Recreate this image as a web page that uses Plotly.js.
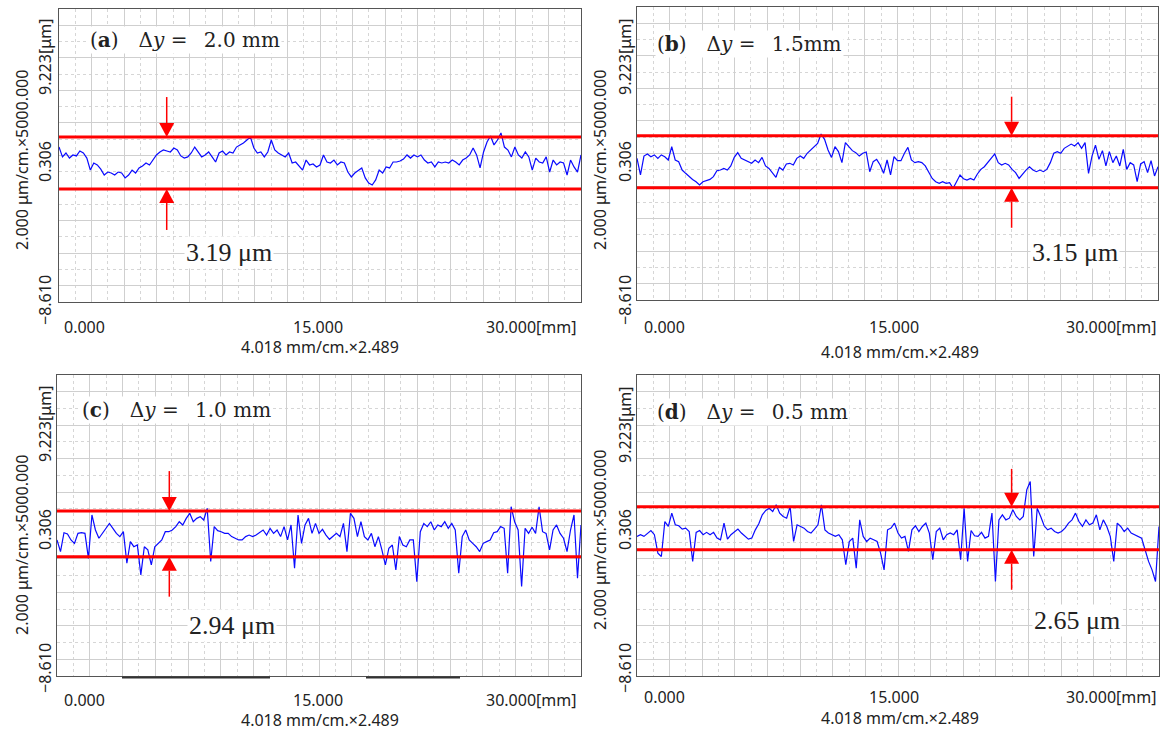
<!DOCTYPE html>
<html><head><meta charset="utf-8">
<script src="https://cdn.plot.ly/plotly-3.0.1.min.js"></script>
<style>html,body{margin:0;padding:0;background:#fff}#chart{width:1169px;height:731px}</style>
</head><body><div id="chart"></div>
<script>
// ---------------- data ----------------
const positionsMm = [0,0.2,0.4,0.6,0.8,1,1.2,1.4,1.6,1.8,2,2.2,2.4,2.6,2.8,3,3.2,3.4,3.6,3.8,4,4.2,4.4,4.6,4.8,5,5.2,5.4,5.6,5.8,6,6.2,6.4,6.6,6.8,7,7.2,7.4,7.6,7.8,8,8.2,8.4,8.6,8.8,9,9.2,9.4,9.6,9.8,10,10.2,10.4,10.6,10.8,11,11.2,11.4,11.6,11.8,12,12.2,12.4,12.6,12.8,13,13.2,13.4,13.6,13.8,14,14.2,14.4,14.6,14.8,15,15.2,15.4,15.6,15.8,16,16.2,16.4,16.6,16.8,17,17.2,17.4,17.6,17.8,18,18.2,18.4,18.6,18.8,19,19.2,19.4,19.6,19.8,20,20.2,20.4,20.6,20.8,21,21.2,21.4,21.6,21.8,22,22.2,22.4,22.6,22.8,23,23.2,23.4,23.6,23.8,24,24.2,24.4,24.6,24.8,25,25.2,25.4,25.6,25.8,26,26.2,26.4,26.6,26.8,27,27.2,27.4,27.6,27.8,28,28.2,28.4,28.6,28.8,29,29.2,29.4,29.6,29.8,30];
const profileA = [0.82,0.22,0.46,0.15,0.34,0.28,
 0.58,0.46,0.15,-0.58,-0.15, -0.27,-0.52,-0.88,-0.70,-0.76, -0.88,-0.70,-0.76,-1.06,-0.88,
 -0.58,-0.76,-0.45,-0.33,-0.15, -0.27,0.03,0.34,0.52,0.64, 0.58,0.52,0.76,0.64,0.28,
 0.15,0.22,0.46,0.82,0.52, 0.22,0.34,0.52,0.22,-0.09, 0.46,0.58,0.34,0.52,0.46,
 0.82,0.95,1.07,1.25,1.43, 0.76,0.46,0.52,0.22,0.52, 1.25,0.64,0.46,0.34,0.22,
 0.46,-0.15,-0.09,-0.33,-0.58, 0.03,-0.27,-0.21,-0.39,-0.27, 0.34,-0.09,-0.15,0.03,-0.27,
 -0.09,-0.15,-0.70,-1.00,-0.76, -0.58,-0.45,-1.06,-1.37,-1.49, -1.18,-0.58,-0.76,-0.39,-0.45,
 -0.09,-0.09,-0.03,0.09,0.34, 0.15,0.34,0.22,0.34,0.03, -0.15,-0.09,-0.39,-0.09,-0.15,
 -0.09,-0.15,0.03,-0.09,-0.27, 0.03,0.15,0.34,0.76,0.34, -0.45,0.52,1.13,1.49,0.95,
 1.25,1.68,0.82,0.64,0.22, 0.82,0.34,0.15,0.52,0.22, -0.58,0.15,-0.09,-0.15,0.22,
 -0.70,0.03,-0.27,-0.09,-0.15, -0.88,0.03,-0.39,-0.70,0.34];
const profileB = [0.01,-1.00,0.15,0.28,0.11,0.22,
 0.01,0.22,0.11,-0.09,0.72, -0.09,-0.19,-0.70,-0.90,-1.10, -1.27,-1.41,-1.61,-1.41,-1.35,
 -1.27,-1.10,-0.74,-0.70,-0.60, -0.70,-0.45,0.07,0.36,0.01, -0.09,-0.19,-0.29,-0.09,-0.25,
 0.07,-0.45,-0.60,-0.86,-1.14, -0.54,-0.70,-0.33,-0.29,-0.39, 0.01,0.15,0.01,0.32,0.52,
 0.72,0.92,1.49,1.17,0.52, 0.07,0.72,0.42,-0.25,0.97, 0.72,0.48,0.36,0.15,0.32,
 0.40,-0.80,-0.19,-0.05,-0.39, -0.90,-0.09,-1.00,0.11,-0.13, -0.13,0.32,0.68,-0.09,-0.25,
 -0.19,-0.25,-0.45,-0.80,-1.21, -1.41,-1.51,-1.41,-1.51,-1.47, -1.81,-1.41,-1.00,-1.23,-1.31,
 -1.21,-1.31,-0.94,-0.66,-0.50, -0.25,0.07,0.28,-0.25,-0.39, -0.29,-0.39,-0.66,-0.86,-1.21,
 -0.94,-0.70,-0.50,-0.70,-0.80, -0.70,-0.80,-0.66,-0.25,0.32, 0.42,0.32,0.62,0.76,0.88,
 0.76,0.97,0.62,0.97,-0.90, 0.15,0.82,-0.05,0.48,-0.45, 0.42,-0.25,0.15,-0.45,0.56,
 -0.66,-0.25,-0.39,-1.41,-0.33, -0.19,-0.86,-0.13,-1.06,-0.50];
const profileC = [-0.55,-1.24,-0.12,-0.20,-0.55,-0.75,
 -0.16,-0.12,-0.16,-1.64,0.93, 0.04,-0.45,-0.16,0.14,0.43, 0.14,-0.16,-0.35,-0.06,-1.93,
 -0.65,-0.95,-0.85,-2.62,-0.95, -1.14,-2.03,-0.95,-0.75,-0.55, -0.06,-0.06,0.04,0.24,0.53,
 0.34,0.73,1.03,0.53,0.73, 0.83,0.63,1.32,-1.83,0.24, 0.00,-0.06,-0.16,-0.16,-0.35,
 -0.45,-0.55,-0.55,-0.35,-0.26, -0.35,-0.26,-0.12,0.04,-0.26, 0.14,-0.16,0.04,-0.35,0.24,
 -0.55,0.34,-2.23,0.93,-0.75, 0.34,0.73,-0.16,0.43,-0.16, 0.08,-0.26,-0.51,-0.35,-0.16,
 -0.35,0.43,-1.24,1.03,0.73, -0.35,0.53,-0.35,-0.55,-0.16, -0.95,-0.35,-1.14,-2.03,-1.04,
 -0.85,-2.33,-0.35,-0.85,-0.95, -0.55,-0.55,-3.02,-0.06,0.43, 0.24,0.53,0.04,0.34,0.24,
 0.53,0.14,0.43,0.04,-2.52, -0.35,0.04,-0.55,-0.75,-0.95, -1.24,-0.75,-0.65,-0.55,-0.12,
 -0.06,0.24,0.14,-2.52,1.42, 0.53,0.04,-3.31,0.14,-0.16, 0.20,-0.16,1.42,-0.06,-0.16,
 -1.14,0.04,0.34,-0.16,-0.45, -1.24,0.04,0.93,-2.82,0.34];
const profileD = [-0.34,-0.24,-0.34,-0.14,0.01,-0.24,
 -1.33,-1.53,0.54,0.25,1.04, 0.35,0.29,0.09,0.15,-0.05, -1.82,-0.10,0.01,-0.24,-0.10,
 -0.24,-0.10,-0.44,-0.54,0.45, -0.50,-0.24,-0.05,0.09,-0.14, -0.30,-0.50,-0.44,0.05,0.41,
 0.94,1.20,1.33,1.14,1.53, 1.04,0.84,0.74,1.43,-0.64, 0.35,0.25,0.15,-0.05,-0.14,
 0.09,0.35,1.53,0.05,-0.14, -0.24,-0.34,-0.24,-0.54,-2.02, -0.64,-0.44,-2.22,0.64,-0.34,
 -0.64,-0.44,-0.54,-0.64,-1.33, -2.32,0.05,0.15,0.45,-0.14, -0.44,-0.34,-1.23,0.05,0.29,
 -0.05,0.25,0.45,-0.14,-1.72, -0.05,0.15,-0.54,-0.24,-0.14, -0.24,0.05,-1.72,1.33,-1.82,
 0.01,-0.30,-0.34,-0.10,-0.44, -0.34,1.04,-3.01,0.64,0.94, 0.64,0.74,1.24,0.84,0.64,
 0.84,2.42,2.91,-1.53,1.33, 0.84,0.29,0.05,0.15,-0.05, -0.14,-0.05,0.15,0.45,0.64,
 1.04,0.54,0.25,0.64,0.35, 0.45,0.94,0.05,0.64,0.25, -0.34,-1.82,0.45,0.25,-0.05,
 0.15,-0.14,-0.24,-0.34,-0.44, -1.13,-1.82,-2.32,-3.01,0.25];
const profiles = [profileA, profileB, profileC, profileD];
const upperLimit = [1.43, 1.39, 1.16, 1.41];
const lowerLimit = [-1.73, -1.78, -1.54, -1.13];
const arrowPosMm = [6.19, 21.57, 6.43, 21.53];
const panelLetters = ['a','b','c','d'];
const deltaY = ['2.0 mm','1.5mm','1.0 mm','0.5 mm'];
const spanLabels = ['3.19 μm','3.15 μm','2.94 μm','2.65 μm'];
const yTickLabels = ['9.223[μm]','0.306','−8.610'];
const xTickLabels = ['0.000','15.000','30.000[mm]'];
const yAxisTitle = '2.000 μm/cm.×5000.000';
const xAxisTitle = '4.018 mm/cm.×2.489';
const xRange = [0, 30];
const yRange = [-8.610, 9.223];

// ---------------- layout geometry (pixels) ----------------
const W = 1169, H = 731;
const P = (x) => x / W, Q = (y) => 1 - y / H;
const panels = [
  {L:59, R:581, T:9, B:302, lab:[88,40], span:[184,252], ytx:45, ytl:[57,162,300], ytitle:[22,160], xtl:[[84,327],[318,327],[531,327]], xtitle:[320,347], arrowTop:40, arrowBot:41},
  {L:637, R:1158, T:7, B:300, lab:[655,44], span:[1030,252], ytx:625, ytl:[57,162,300], ytitle:[600,160], xtl:[[664,327],[894,327],[1111,327]], xtitle:[900,352], arrowTop:39, arrowBot:40},
  {L:57, R:581, T:375, B:676, lab:[80,410], span:[187,625], ytx:45, ytl:[424,530,668], ytitle:[22,545], xtl:[[84,700],[318,700],[531,700]], xtitle:[320,720], arrowTop:40, arrowBot:40},
  {L:637, R:1159, T:375, B:676, lab:[655,412], span:[1032,620], ytx:625, ytl:[425,530,668], ytitle:[600,540], xtl:[[664,697],[894,697],[1111,697]], xtitle:[900,718], arrowTop:38, arrowBot:40}
];

const traces = [], shapes = [], annotations = [];
const layout = {
  width: W, height: H, margin: {l:0, r:0, t:0, b:0},
  paper_bgcolor: '#fff', plot_bgcolor: '#fff', showlegend: false,
  font: {family: 'Noto Sans, sans-serif', size: 16, color: '#222'}
};
const serif = 'Liberation Serif, DejaVu Serif, serif';
const labelSerif = 'DejaVu Serif, Liberation Serif, serif';

panels.forEach((p, i) => {
  const n = i === 0 ? '' : String(i + 1);
  const xa = 'x' + n, ya = 'y' + n;
  layout['xaxis' + n] = {
    domain: [P(p.L), P(p.R)], range: xRange, anchor: ya,
    showticklabels: false, ticks: '', zeroline: false,
    tick0: 0, dtick: 1.875, showgrid: true, gridcolor: '#cfcfcf', gridwidth: 1,
    minor: {tick0: 0, dtick: 0.9375, showgrid: true, gridcolor: '#d6d6d6', griddash: '3px,3px', gridwidth: 1, ticks: ''},
    showline: true, linecolor: '#555', linewidth: 1.3, mirror: true
  };
  layout['yaxis' + n] = {
    domain: [Q(p.B), Q(p.T)], range: yRange, anchor: xa,
    showticklabels: false, ticks: '', zeroline: false,
    tick0: 0.306, dtick: 1.98144, showgrid: true, gridcolor: '#cfcfcf', gridwidth: 1,
    minor: {tick0: 0.306, dtick: 0.99072, showgrid: true, gridcolor: '#d6d6d6', griddash: '3px,3px', gridwidth: 1, ticks: ''},
    showline: true, linecolor: '#555', linewidth: 1.3, mirror: true
  };
  traces.push({type: 'scatter', mode: 'lines', x: positionsMm, y: profiles[i], xaxis: xa, yaxis: ya,
    line: {color: '#0a0aff', width: 1.2}, hoverinfo: 'skip'});
  traces.push({type: 'scatter', mode: 'lines', x: xRange, y: [upperLimit[i], upperLimit[i]], xaxis: xa, yaxis: ya,
    line: {color: '#ff0000', width: 3}, hoverinfo: 'skip', cliponaxis: false});
  traces.push({type: 'scatter', mode: 'lines', x: xRange, y: [lowerLimit[i], lowerLimit[i]], xaxis: xa, yaxis: ya,
    line: {color: '#ff0000', width: 3}, hoverinfo: 'skip', cliponaxis: false});
  const base = {xref: xa, yref: ya, xsizemode: 'pixel', ysizemode: 'pixel', xanchor: arrowPosMm[i], layer: 'above'};
  shapes.push(Object.assign({}, base, {type: 'path', yanchor: upperLimit[i], path: 'M -7.5,14 L 7.5,14 L 0,0 Z', fillcolor: '#ff0000', line: {width: 0}}));
  shapes.push(Object.assign({}, base, {type: 'line', yanchor: upperLimit[i], x0: 0, x1: 0, y0: 14, y1: p.arrowTop, line: {color: '#ff0000', width: 1.5}}));
  shapes.push(Object.assign({}, base, {type: 'path', yanchor: lowerLimit[i], path: 'M -7.5,-14 L 7.5,-14 L 0,0 Z', fillcolor: '#ff0000', line: {width: 0}}));
  shapes.push(Object.assign({}, base, {type: 'line', yanchor: lowerLimit[i], x0: 0, x1: 0, y0: -14, y1: -p.arrowBot, line: {color: '#ff0000', width: 1.5}}));

  annotations.push({xref: 'paper', yref: 'paper', x: P(p.lab[0]), y: Q(p.lab[1]), xanchor: 'left', yanchor: 'middle', showarrow: false,
    text: '(<b>' + panelLetters[i] + '</b>)\u2003Δ<i>y</i> =\u2002 ' + deltaY[i], font: {family: labelSerif, size: 20, color: '#222'}, bgcolor: '#fff'});
  annotations.push({xref: 'paper', yref: 'paper', x: P(p.span[0]), y: Q(p.span[1]), xanchor: 'left', yanchor: 'middle', showarrow: false,
    text: spanLabels[i], font: {family: serif, size: 26, color: '#222'}, bgcolor: '#fff'});
  yTickLabels.forEach((t, k) => annotations.push({xref: 'paper', yref: 'paper', x: P(p.ytx), y: Q(p.ytl[k]), xanchor: 'center', yanchor: 'middle',
    showarrow: false, textangle: -90, text: t, font: {size: 16, color: '#222'}}));
  annotations.push({xref: 'paper', yref: 'paper', x: P(p.ytitle[0]), y: Q(p.ytitle[1]), xanchor: 'center', yanchor: 'middle',
    showarrow: false, textangle: -90, text: yAxisTitle, font: {size: 16, color: '#222'}});
  xTickLabels.forEach((t, k) => annotations.push({xref: 'paper', yref: 'paper', x: P(p.xtl[k][0]), y: Q(p.xtl[k][1]), xanchor: 'center', yanchor: 'middle',
    showarrow: false, text: t, font: {size: 16, color: '#222'}}));
  annotations.push({xref: 'paper', yref: 'paper', x: P(p.xtitle[0]), y: Q(p.xtitle[1]), xanchor: 'center', yanchor: 'middle',
    showarrow: false, text: xAxisTitle, font: {size: 16, color: '#222'}});
});
// dark segments under the lower axis of panel (c)
[[122, 270], [366, 460]].forEach(s => shapes.push({type: 'line', xref: 'paper', yref: 'paper', x0: P(s[0]), x1: P(s[1]), y0: Q(677.5), y1: Q(677.5), line: {color: '#333', width: 2}}));
layout.shapes = shapes;
layout.annotations = annotations;
Plotly.newPlot('chart', traces, layout, {staticPlot: true, displayModeBar: false});
</script></body></html>
